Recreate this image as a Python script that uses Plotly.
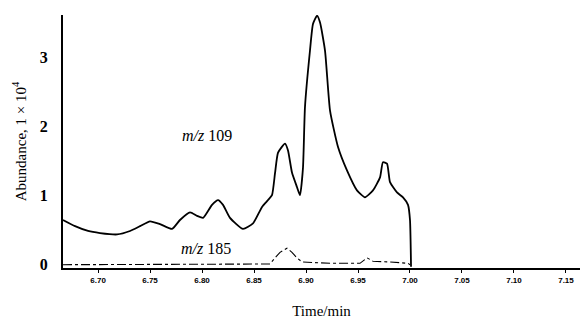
import plotly.graph_objects as go

# m/z 109 trace (time in min, abundance in 1e4)
t109 = [6.6663, 6.6779, 6.6904, 6.7019, 6.7183, 6.7308, 6.7404, 6.7500, 6.7596, 6.7712,
        6.7788, 6.7885, 6.7952, 6.8010, 6.8096, 6.8154, 6.8202, 6.8269, 6.8394, 6.8490,
        6.8577, 6.8635, 6.8673, 6.8702, 6.8731, 6.8798, 6.8827, 6.8865, 6.8913, 6.8942,
        6.8971, 6.8990, 6.9038, 6.9067, 6.9106, 6.9135, 6.9183, 6.9231, 6.9308, 6.9394,
        6.9490, 6.9567, 6.9644, 6.9712, 6.9740, 6.9779, 6.9808, 6.9875, 6.9933, 6.9981,
        7.0000, 7.0010]
a109 = [0.64, 0.55, 0.48, 0.45, 0.43, 0.48, 0.55, 0.62, 0.58, 0.51,
        0.64, 0.75, 0.70, 0.67, 0.86, 0.93, 0.86, 0.67, 0.51, 0.59,
        0.83, 0.93, 1.00, 1.32, 1.62, 1.75, 1.65, 1.33, 1.12, 1.00,
        1.40, 2.28, 3.10, 3.49, 3.61, 3.51, 3.10, 2.23, 1.70, 1.36,
        1.07, 0.97, 1.07, 1.26, 1.48, 1.46, 1.19, 1.04, 0.97, 0.86,
        0.64, -0.04]

# m/z 185 trace
t185 = [6.6663, 6.7212, 6.7981, 6.8654, 6.8702, 6.8750, 6.8817, 6.8865, 6.8913, 6.8962,
        6.9231, 6.9519, 6.9587, 6.9644, 6.9808, 6.9981, 7.0000]
a185 = [-0.01, -0.01, -0.01, 0.0, 0.09, 0.17, 0.23, 0.17, 0.09, 0.03,
        0.01, 0.01, 0.09, 0.04, 0.03, 0.01, -0.01]

xtick_vals = [6.70, 6.75, 6.80, 6.85, 6.90, 6.95, 7.00, 7.05, 7.10, 7.15]
xtick_text = ["6.70", "6.75", "6.80", "6.85", "6.90", "6.95", "7.00", "7.05", "7.10", "7.15"]
ytick_vals = [0, 1, 2, 3]

serif = "Liberation Serif, Times New Roman, serif"

fig = go.Figure()
fig.add_trace(go.Scatter(x=t109, y=a109, mode="lines",
                         line=dict(color="black", width=1.8, shape="spline", smoothing=0.5),
                         showlegend=False))
fig.add_trace(go.Scatter(x=t185, y=a185, mode="lines",
                         line=dict(color="black", width=1.1, dash="dashdot"),
                         showlegend=False))

fig.add_annotation(x=6.8050, y=1.87, text="<i>m/z</i> 109", showarrow=False,
                   font=dict(family=serif, size=16, color="black"))
fig.add_annotation(x=6.8040, y=0.22, text="<i>m/z</i> 185", showarrow=False,
                   font=dict(family=serif, size=16, color="black"))

fig.update_layout(
    width=580, height=326,
    margin=dict(l=63, r=0, t=15, b=58),
    paper_bgcolor="white", plot_bgcolor="white",
    xaxis=dict(range=[6.6663, 7.1635], tickvals=xtick_vals, ticktext=xtick_text,
               showgrid=False, zeroline=False, showline=True, linecolor="black", linewidth=2,
               ticks="outside", ticklen=3, tickcolor="black",
               tickfont=dict(family="Liberation Sans, Arial", size=8, color="black", weight="bold"),
               title=dict(text="Time/min", font=dict(family=serif, size=15, color="black"),
                          standoff=22)),
    yaxis=dict(range=[-0.058, 3.62], tickvals=ytick_vals,
               showgrid=False, zeroline=False, showline=True, linecolor="black", linewidth=2,
               ticks="", ticklabelstandoff=10,
               tickfont=dict(family=serif, size=16, color="black", weight="bold"),
               title=dict(text="Abundance, 1 × 10<sup>4</sup>",
                          font=dict(family=serif, size=15, color="black"), standoff=10)),
)

fig.write_html("out.html")
